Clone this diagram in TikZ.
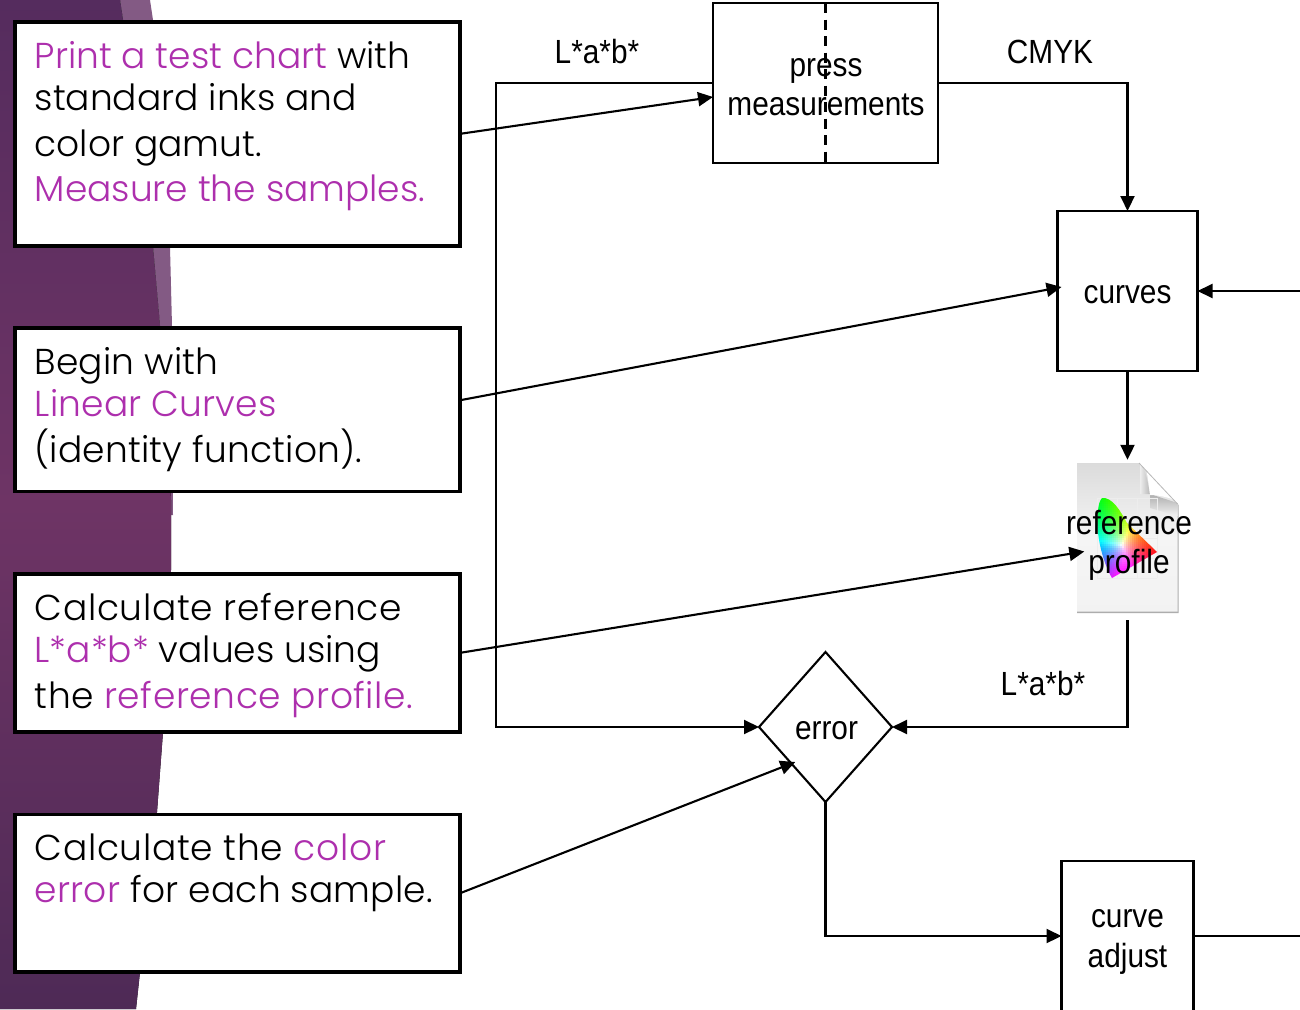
\documentclass[tikz,border=0pt]{standalone}
\usepackage{fontspec}
\setmainfont{Poppins}[UprightFont=* Light]
\newfontfamily\helv{Liberation Sans}[FakeStretch=0.89]
\usetikzlibrary{arrows.meta,shapes.geometric}
\definecolor{accent}{HTML}{AD2FAD}
\definecolor{darktop}{HTML}{552C5E}
\definecolor{darkmid}{HTML}{6E3465}
\definecolor{darkbot}{HTML}{4E2A56}
\definecolor{strip}{HTML}{835A84}
\newcommand{\pk}[1]{\textcolor{accent}{#1}}
\newcommand{\ls}{\rule{0pt}{30pt}}
\newcommand{\spaced}[2]{{\addfontfeature{LetterSpace=#1}#2}}
\tikzset{
 card/.style={draw=black,line width=3.8pt,fill=white,minimum width=445pt,inner sep=0pt,outer sep=0pt,anchor=north west},
 cardtext/.style={anchor=north west,inner sep=0pt,align=left,font=\fontsize{36}{42}\selectfont},
 helvfont/.style={font=\helv\fontsize{33.5}{39.5}\selectfont},
 flowbox/.style={draw=black,line width=2.1pt,fill=white,inner sep=0pt,outer sep=0pt,helvfont,align=center},
 lbl/.style={inner sep=0pt,helvfont,align=center},
 wire/.style={draw=black,line width=2.1pt},
 arr/.style={wire,-{Triangle[length=15pt,width=14pt]}},
}
\begin{document}
\begin{tikzpicture}[x=1pt,y=-1pt]
\useasboundingbox (0,0) rectangle (1300,1009);
% background
\fill[white] (0,0) rectangle (1300,1009);
\fill[strip] (120,0) -- (150,0) -- (153,20) -- (170,247) -- (172,326) -- (173,515) -- (170,515) -- (160,326) -- (153,247) -- (123,20) -- cycle;
\fill[top color=darktop,bottom color=darkbot,middle color=darkmid]
  (0,0) -- (120,0) -- (123,20) -- (153,247) -- (160,326) -- (171,500) -- (171,570) -- (163,732) -- (157,812) -- (140,972) -- (136,1009) -- (0,1009) -- cycle;
% cards
\node[card,minimum height=223.7pt] (c1) at (15,22) {};
\node[card,minimum height=163.5pt] (c2) at (15,328) {};
\node[card,minimum height=157.7pt] (c3) at (15,574) {};
\node[card,minimum height=157.5pt] (c4) at (15,814.5) {};
\node[cardtext] (t1) at (34.5,38.5) {\ls\pk{Print a test chart} with\\standard inks and\\[4pt]color gamut.\\[3pt]\pk{Measure the samples.}};
\node[cardtext] (t2) at (34.5,344.5) {\ls\spaced{0.5}{Begin with}\\\spaced{0.6}{\pk{Linear Curves}}\\[4pt]\spaced{0.5}{(identity function).}};
\node[cardtext] (t3) at (34.5,590.5) {\ls\spaced{2}{Calculate reference}\\\pk{L*a*b*} values using\\[4pt]\spaced{1.6}{the \pk{reference profile.}}};
\node[cardtext] (t4) at (34.5,830.5) {\ls\spaced{2}{Calculate the \pk{color}}\\\spaced{0.6}{\pk{error} for each sample.}};
% flow nodes
\node[flowbox,minimum width=225pt,minimum height=160pt] (press) at (825.5,83) {};
\draw[wire,dash pattern=on 10pt off 6.5pt] (press.north) -- (press.south);
\node[lbl] (presst) at (826,87) {press\\measurements};
\node[flowbox,minimum width=140pt,minimum height=160pt,text height=24pt,text depth=0pt] (curves) at (1127.5,291) {curves};
\node[draw=black,line width=2.1pt,fill=white,diamond,inner sep=0pt,outer sep=0pt,minimum width=133pt,minimum height=150pt,helvfont,text height=24pt,text depth=0pt] (error) at (825.5,727) {\hspace{2pt}error};
\node[flowbox,minimum width=132pt,minimum height=150pt] (adjust) at (1127.5,936) {};
\node[lbl] (adjustt) at (1127.5,942) {curve\\adjust};
\coordinate (rightin) at (1300,291);
\coordinate (rightout) at (1300,936);
\coordinate (rail) at (496,400);
% icon
\node[inner sep=0pt,minimum width=101pt,minimum height=149pt] (icon) at (1127.5,537.5) {};
\fill[black!32] (1077,464) -- (1139,464) -- (1178.5,505) -- (1178.5,613) -- (1077,613) -- cycle;
\shade[top color=black!14,bottom color=black!5,middle color=black!4] (1077,463) -- (1139,463) -- (1177.5,504) -- (1177.5,611.5) -- (1077,611.5) -- cycle;
\shade[top color=black!32,bottom color=black!5] (1150,494) -- (1177.5,503) -- (1177.5,516) -- (1150,508) -- cycle;
\shade[left color=black!5,right color=black!28] (1139,463) .. controls (1147,470) and (1148,485) .. (1150,494) -- (1140,494) -- (1140,463) -- cycle;
\fill[white] (1146,469) -- (1175,500) .. controls (1167,497) and (1158,495) .. (1150,495) .. controls (1149,487) and (1148,477) .. (1146,469) -- cycle;
\draw[black!28,line width=.8pt] (1139,463) -- (1177.5,504);
\foreach \gx in {1097,1117,1137,1157}{\draw[black!7,line width=.6pt] (\gx,498) -- (\gx,578);}
\foreach \gy in {498,518,538,558,578}{\draw[black!7,line width=.6pt] (1097,\gy) -- (1157,\gy);}
\begin{scope}
\clip (1102,498) .. controls (1112,497) and (1120,510) .. (1127,523) -- (1157,552) -- (1112,578) .. controls (1104,565) and (1095,535) .. (1098,513) .. controls (1098,505) and (1100,500) .. (1102,498) -- cycle;
\pgfmathsetmacro{\den}{(590-552)*(1098-1165)+(1165-1100)*(490-552)}
\foreach \xx in {1096,1098,...,1158}{
 \foreach \yy in {496,498,...,578}{
  \pgfmathsetmacro{\lg}{max(0,((590-552)*(\xx-1165)+(1165-1100)*(\yy-552))/\den)}
  \pgfmathsetmacro{\lb}{max(0,((552-490)*(\xx-1165)+(1098-1165)*(\yy-552))/\den)}
  \pgfmathsetmacro{\lr}{max(0,1-\lg-\lb)}
  \pgfmathsetmacro{\mm}{max(max(\lr,\lg),\lb)}
  \pgfmathsetmacro{\rr}{min(1,\lr/\mm+0.7*(\lb/\mm)*max(0,(\yy-548)/30))}
  \pgfmathsetmacro{\gg}{min(1,\lg/\mm)}
  \pgfmathsetmacro{\bb}{min(1,\lb/\mm)}
  \definecolor{cc}{rgb}{\rr,\gg,\bb}
  \fill[cc] (\xx,\yy) rectangle (\xx+2.2,\yy+2.2);
 }}
\end{scope}
\node[lbl] (icont) at (1129,545.5) {reference\\profile};
% connectors
\draw[arr] (c1.east) -- ([yshift=-14pt]press.west);
\draw[arr] ([yshift=9.5pt]c2.east) -- ([shift={(4pt,4pt)}]curves.west);
\draw[arr] (c3.east) -- ([shift={(7.5pt,-14pt)}]icon.west);
\draw[arr] (c4.east) -- ([shift={(3pt,2.5pt)}]error.south west);
\draw[arr] (press.west) -- (rail |- press.west) -- (rail |- error.west) -- (error.west);
\draw[arr] (press.east) -| (curves.north);
\draw[arr] (curves.south) -- ([yshift=3pt]icon.north);
\draw[arr] (rightin) -- (curves.east);
\draw[arr] ([yshift=-8pt]icon.south) |- (error.east);
\draw[arr] (error.south) |- (adjust.west);
\draw[wire] (adjust.east) -- (rightout);
% labels
\node[lbl] (l1) at (597,52) {L*a*b*};
\node[lbl] (l2) at (1050,52) {CMYK};
\node[lbl] (l3) at (1043,684) {L*a*b*};
\end{tikzpicture}
\end{document}
